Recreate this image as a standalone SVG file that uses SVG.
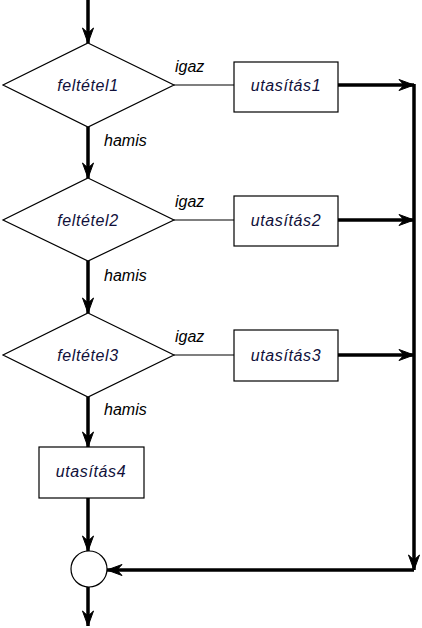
<svg xmlns="http://www.w3.org/2000/svg" width="422" height="628" viewBox="0 0 422 628">
<defs>
<style>
.shape{fill:#fff;stroke:#000;stroke-width:1.2}
.thin{stroke:#000;stroke-width:1.2;fill:none}
.thick{stroke:#000;stroke-width:3.5;fill:none}
.lbl{font-family:"Liberation Sans",Arial,sans-serif;font-style:italic;font-size:16px;fill:#10103a;text-anchor:middle;letter-spacing:0.6px}
.side{font-family:"Liberation Sans",Arial,sans-serif;font-style:italic;font-size:16px;fill:#000}
</style>
<marker id="ah" markerUnits="userSpaceOnUse" markerWidth="20" markerHeight="14" refX="16" refY="6" orient="auto" viewBox="0 0 20 14">
<path d="M16,6 L1,0.5 L6,6 L1,11.5 Z" fill="#000" stroke="#000" stroke-width="1"/>
</marker>
</defs>
<g id="connectors">
<line class="thick" x1="88" y1="0" x2="88" y2="43" marker-end="url(#ah)"/>
<line class="thick" x1="88" y1="127" x2="88" y2="178" marker-end="url(#ah)"/>
<line class="thick" x1="88" y1="261" x2="88" y2="313" marker-end="url(#ah)"/>
<line class="thick" x1="88" y1="397" x2="88" y2="447" marker-end="url(#ah)"/>
<line class="thick" x1="88" y1="498" x2="88" y2="551" marker-end="url(#ah)"/>
<line class="thick" x1="88" y1="587" x2="88" y2="626" marker-end="url(#ah)"/>
<line class="thin" x1="174" y1="85" x2="234" y2="85"/>
<line class="thin" x1="174" y1="220" x2="234" y2="220"/>
<line class="thin" x1="174" y1="355" x2="234" y2="355"/>
<line class="thick" x1="338" y1="85" x2="414" y2="85" marker-end="url(#ah)"/>
<line class="thick" x1="338" y1="220" x2="414" y2="220" marker-end="url(#ah)"/>
<line class="thick" x1="338" y1="355" x2="414" y2="355" marker-end="url(#ah)"/>
<line class="thick" x1="414" y1="84" x2="414" y2="570" marker-end="url(#ah)"/>
<line class="thick" x1="414" y1="570" x2="107" y2="570" marker-end="url(#ah)"/>
</g>
<g id="d1"><polygon class="shape" points="88,43 174,85 88,127 3,85"/><text class="lbl" x="88" y="91">feltétel1</text></g>
<g id="d2"><polygon class="shape" points="88,178 174,220 88,261 3,220"/><text class="lbl" x="88" y="226">feltétel2</text></g>
<g id="d3"><polygon class="shape" points="88,313 174,355 88,397 3,355"/><text class="lbl" x="88" y="361">feltétel3</text></g>
<g id="b1"><rect class="shape" x="234" y="62" width="104" height="50"/><text class="lbl" x="286" y="91">utasítás1</text></g>
<g id="b2"><rect class="shape" x="234" y="196" width="104" height="50"/><text class="lbl" x="286" y="226">utasítás2</text></g>
<g id="b3"><rect class="shape" x="234" y="330" width="104" height="51"/><text class="lbl" x="286" y="361">utasítás3</text></g>
<g id="b4"><rect class="shape" x="39" y="447" width="105" height="51"/><text class="lbl" x="91" y="477">utasítás4</text></g>
<g id="c1"><circle class="shape" cx="89" cy="569" r="18"/></g>
<g id="labels">
<text class="side" x="175" y="72">igaz</text>
<text class="side" x="175" y="207">igaz</text>
<text class="side" x="175" y="342">igaz</text>
<text class="side" x="104" y="146">hamis</text>
<text class="side" x="104" y="281">hamis</text>
<text class="side" x="104" y="415">hamis</text>
</g>
</svg>
